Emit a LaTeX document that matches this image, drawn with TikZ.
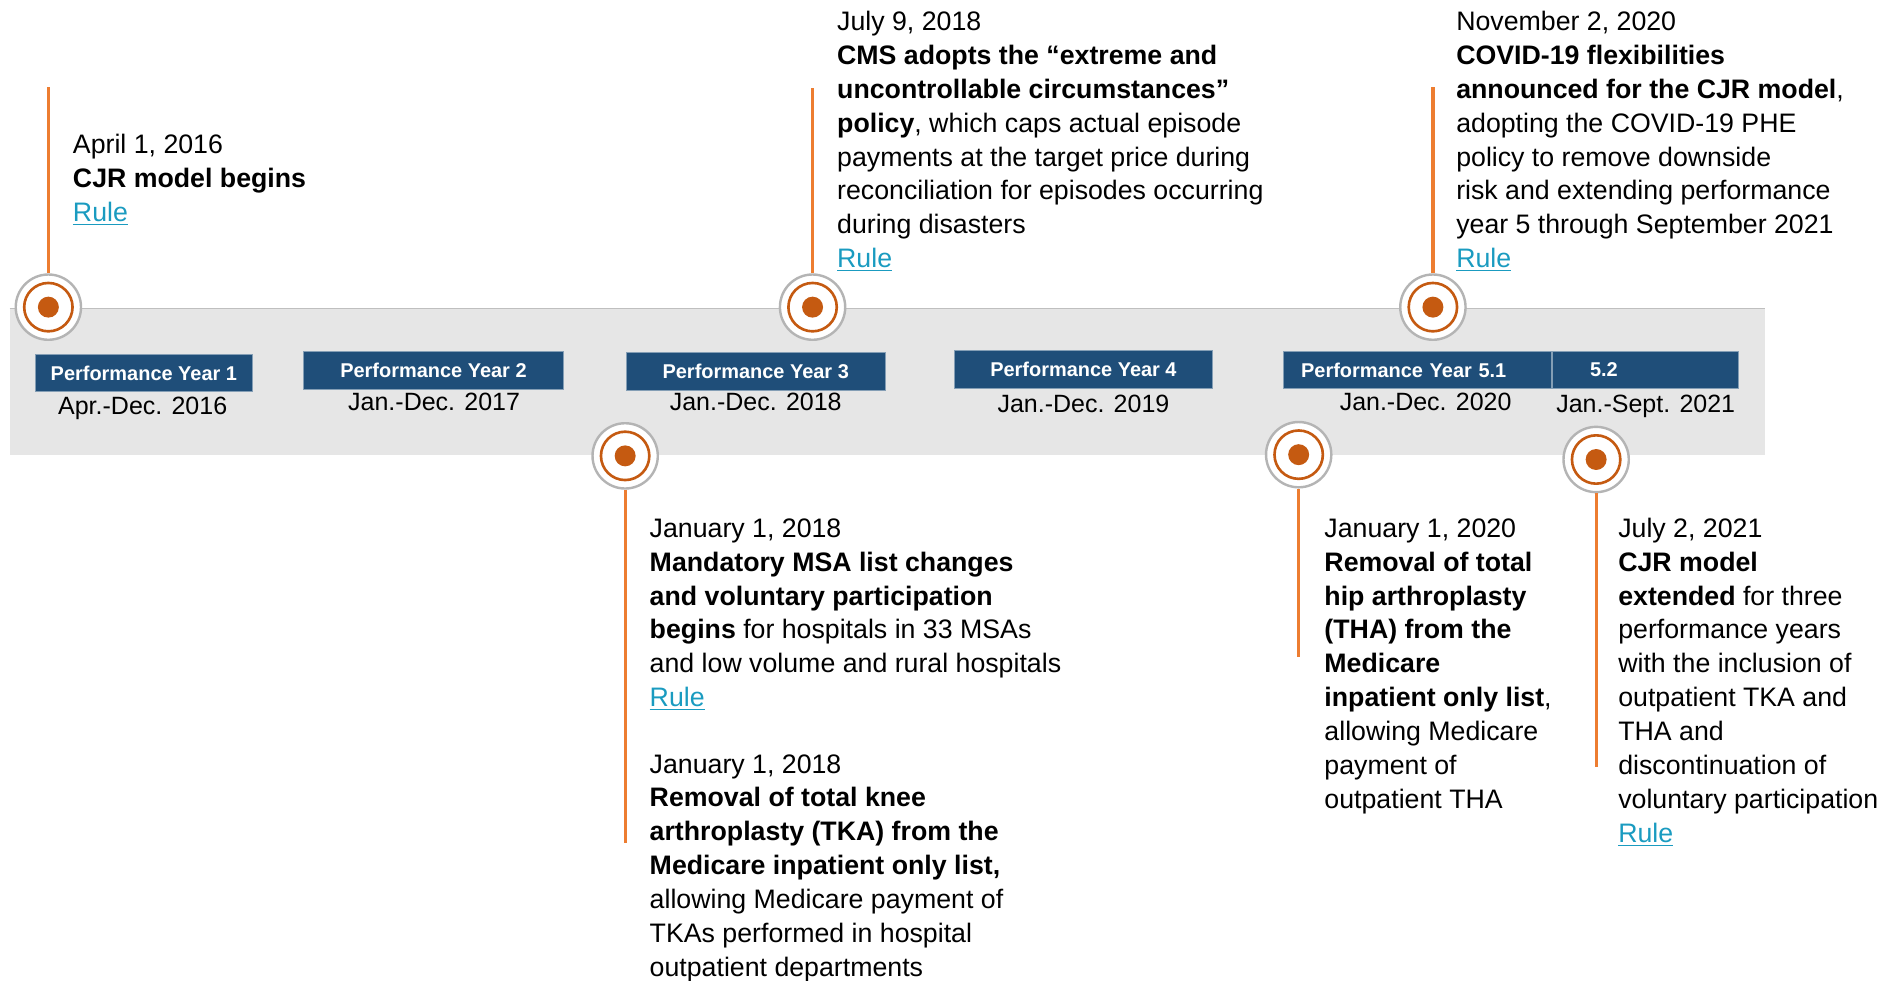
\documentclass[tikz,border=0pt]{standalone}
\usepackage{fontspec}
\setmainfont{Liberation Sans}
\definecolor{bandgray}{HTML}{E6E6E6}
\definecolor{bandline}{HTML}{BFBFBF}
\definecolor{ringgray}{HTML}{B4B4B4}
\definecolor{rust}{HTML}{C55A11}
\definecolor{stemorange}{HTML}{ED7D31}
\definecolor{pyblue}{HTML}{1F4E79}
\definecolor{linkteal}{HTML}{1A9BC0}
\newcommand{\rulelink}{\textcolor{linkteal}{\underline{Rule}}}

\begin{document}
\begin{tikzpicture}[x=0.6pt,y=-0.6pt,
  milestone/.style={circle, draw=ringgray, line width=1.2pt, fill=white,
    minimum size=32.4pt, inner sep=0pt,
    path picture={
      \draw[rust, line width=1.3pt] (path picture bounding box.center) circle (12pt);
      \fill[rust] (path picture bounding box.center) circle (5.2pt);}},
  stemline/.style={stemorange, line width=1.6pt},
  pybox/.style={fill=pyblue, draw=pyblue!55!white, line width=0.4pt, text=white,
    font=\bfseries\fontsize{9.9}{12}\selectfont, minimum height=18.6pt, inner sep=0pt},
  period/.style={anchor=base, inner sep=0pt, font=\fontsize{12.4}{15}\selectfont},
  note/.style={anchor=north west, inner sep=0pt, align=left,
    font=\fontsize{13.26}{16.8}\selectfont}]

\useasboundingbox (0,0) rectangle (1568,811);

% timeline band
\fill[bandgray] (8,255) rectangle (1460,376);
\draw[bandline, line width=0.6pt] (8,255) -- (1460,255);

% performance year bars
\node[pybox, minimum width=108pt]   (py1) at (119,308.5) {Performance Year 1};
\node[pybox, minimum width=129pt]   (py2) at (358.5,306.5) {Performance Year 2};
\node[pybox, minimum width=128.4pt] (py3) at (625,307) {Performance Year 3};
\node[pybox, minimum width=128.4pt] (py4) at (896,305.5) {Performance Year 4};
\node[pybox, text width=115.2pt, inner xsep=9pt, align=left] (py51) at (1172,306) {Performance Year 5.1};
\node[pybox, text width=55.2pt, inner xsep=18.6pt, align=left] (py52) at (1361,306) {5.2};

% period labels
\node[period] (d1) at (118,342.4) {Apr.-Dec. 2016};
\node[period] (d2) at (359,339.4) {Jan.-Dec. 2017};
\node[period] (d3) at (625,339.4) {Jan.-Dec. 2018};
\node[period] (d4) at (896,341.4) {Jan.-Dec. 2019};
\node[period] (d5) at (1179,339.4) {Jan.-Dec. 2020};
\node[period] (d6) at (1361,341.4) {Jan.-Sept. 2021};

% milestones
\node[milestone] (c1) at (40,254) {};
\node[milestone] (c2) at (517,377) {};
\node[milestone] (c3) at (672,254) {};
\node[milestone] (c4) at (1074,376) {};
\node[milestone] (c5) at (1185,254) {};
\node[milestone] (c6) at (1320,380) {};

% stems
\coordinate (t1) at (40,72);
\coordinate (t2) at (517,697);
\coordinate (t3) at (672,73);
\coordinate (t4) at (1074,543);
\coordinate (t5) at (1185,72);
\coordinate (t6) at (1320,634);
\draw[stemline] (t1) -- (c1.north);
\draw[stemline] (c2.south) -- (t2);
\draw[stemline] (t3) -- (c3.north);
\draw[stemline] (c4.south) -- (t4);
\draw[stemline] (t5) -- (c5.north);
\draw[stemline] (c6.south) -- (t6);

% event notes
\node[note] (nA) at (60,107.4) {\strut April 1, 2016\\
  \textbf{CJR model begins}\\
  \rulelink};

\node[note] (nB) at (692,5.4) {\strut July 9, 2018\\
  \textbf{CMS adopts the “extreme and}\\
  \textbf{uncontrollable circumstances”}\\
  \textbf{policy}, which caps actual episode\\
  payments at the target price during\\
  reconciliation for episodes occurring\\
  during disasters\\
  \rulelink};

\node[note] (nC) at (1204,5.4) {\strut November 2, 2020\\
  \textbf{COVID-19 flexibilities}\\
  \textbf{announced for the CJR model},\\
  adopting the COVID-19 PHE\\
  policy to remove downside\\
  risk and extending performance\\
  year 5 through September 2021\\
  \rulelink};

\node[note] (nD) at (537,424.4) {\strut January 1, 2018\\
  \textbf{Mandatory MSA list changes}\\
  \textbf{and voluntary participation}\\
  \textbf{begins} for hospitals in 33 MSAs\\
  and low volume and rural hospitals\\
  \rulelink};

\node[note] (nE) at (537,619.4) {\strut January 1, 2018\\
  \textbf{Removal of total knee}\\
  \textbf{arthroplasty (TKA) from the}\\
  \textbf{Medicare inpatient only list,}\\
  allowing Medicare payment of\\
  TKAs performed in hospital\\
  outpatient departments};

\node[note] (nF) at (1095,424.4) {\strut January 1, 2020\\
  \textbf{Removal of total}\\
  \textbf{hip arthroplasty}\\
  \textbf{(THA) from the}\\
  \textbf{Medicare}\\
  \textbf{inpatient only list},\\
  allowing Medicare\\
  payment of\\
  outpatient THA};

\node[note] (nG) at (1338,424.4) {\strut July 2, 2021\\
  \textbf{CJR model}\\
  \textbf{extended} for three\\
  performance years\\
  with the inclusion of\\
  outpatient TKA and\\
  THA and\\
  discontinuation of\\
  voluntary participation\\
  \rulelink};

\end{tikzpicture}
\end{document}
